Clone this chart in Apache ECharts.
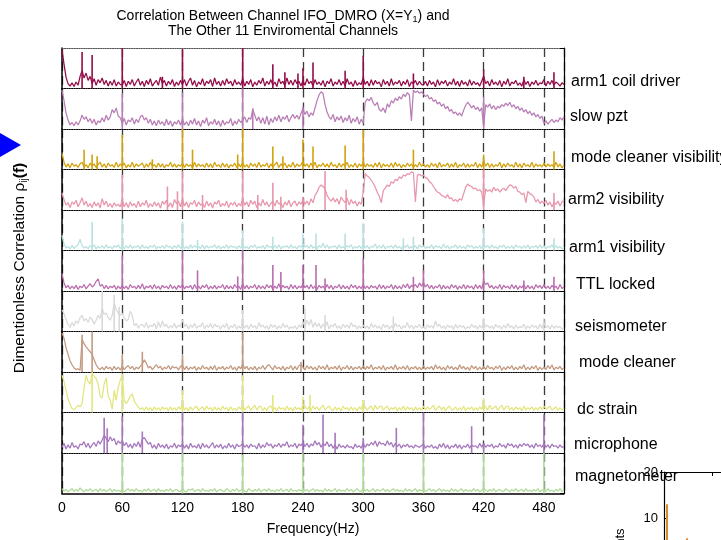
<!DOCTYPE html>
<html>
<head>
<meta charset="utf-8">
<script src="https://cdn.jsdelivr.net/npm/echarts@6/dist/echarts.min.js"></script>
<style>
  html, body { margin: 0; padding: 0; background: #fff; }
  #chart { width: 721px; height: 540px; }
</style>
</head>
<body>
<div id="chart"></div>
<script>
// channel names, top to bottom
const channels = ['arm1 coil driver', 'slow pzt', 'mode cleaner visibility', 'arm2 visibility', 'arm1 visibility',
  'TTL locked', 'seismometer', 'mode cleaner', 'dc strain', 'microphone', 'magnetometer']
const colors = ['#930c47', '#b87db5', '#d2a20c', '#e796ab', '#b9e0e0', '#b96dad', '#d9d9d9', '#c19a80', '#e3e67f', '#a577bd', '#b0da98']

// broadband part of each spectrum, one value every 2 Hz from 0 to 500 (0..100 = panel height)
// each row is 60 Hz
const coilDriver = [96,60,28,12,6, 14,5,16,8,30, 44,26,38,20,30, 12,24,8,22,14, 26,10,20,6,18, 8,22,6,16,10,
  8,20,5,18,10, 22,6,16,24,8, 18,5,20,10,24, 6,14,20,8,28, 12,20,6,18,10, 22,5,16,8,20,
  10,22,6,18,26, 8,20,4,16,10, 24,6,18,12,22, 5,26,10,18,6, 20,8,24,12,18, 6,22,10,16,8,
  24,6,18,10,22, 4,16,8,20,12, 26,6,18,10,22, 8,16,5,24,12, 18,6,26,10,20, 8,22,12,18,6,
  20,8,24,12,18, 6,22,10,16,8, 20,4,18,12,24, 6,16,10,22,8, 18,6,24,10,16, 5,20,8,14,10,
  26,10,18,6,22, 8,20,12,16,4, 22,10,18,6,24, 8,16,12,20,6, 18,10,22,5,16, 12,20,8,18,10,
  8,18,6,20,10, 16,4,22,8,18, 12,20,6,16,10, 24,8,18,5,20, 10,16,6,22,8, 18,10,14,6,18,
  30,12,18,6,22, 10,16,8,20,4, 18,10,24,6,16, 12,20,8,14,6, 22,10,18,5,16, 10,20,8,14,12,
  22,6,18,10,20,8,16,12,6,14,10]
const slowPzt = [96,70,40,22,10, 16,8,18,10,20, 34,24,30,18,26, 14,24,10,20,16, 28,18,34,22,30, 48,40,52,32,28,
  14,26,10,22,18, 28,12,24,16,30, 34,22,28,14,24, 10,20,8,22,12, 18,8,24,10,20, 6,18,12,22,10,
  24,10,18,8,22, 12,26,10,20,6, 22,14,28,8,18, 12,24,10,20,6, 22,10,18,14,26, 8,20,12,24,16,
  22,30,16,28,24, 48,34,20,30,14, 28,12,32,10,26, 16,30,20,34,18, 30,24,34,18,28, 36,26,34,24,38,
  50,36,44,30,40, 34,52,70,84,92, 88,60,42,30,24, 36,18,30,22,32, 16,28,20,34,14, 26,18,30,12,24,
  14,66,74,70,78, 64,58,66,48,44, 52,40,62,54,70, 64,76,70,80,74, 86,80,90,84,20, 96,90,94,88,92,
  86,80,84,74,78, 68,72,62,66,56, 62,50,56,44,48, 38,42,34,40,32, 46,58,66,60,52, 58,48,54,44,52,
  8,60,54,62,50, 58,48,56,52,60, 56,64,58,66,54, 60,50,56,46,52, 42,48,38,44,34, 40,30,36,26,32,
  14,20,12,18,24,16,22,18,28,22,30]
const mcVisibility = [40,18,6,14,4, 16,8,12,5,14, 18,6,12,4,16, 8,14,5,12,18, 6,14,4,16,8, 12,5,18,6,14,
  8,16,4,12,6, 18,5,14,8,12, 16,4,14,6,18, 8,12,5,16,6, 14,4,12,8,18, 6,14,5,12,8,
  16,5,14,8,12, 4,18,6,14,8, 12,5,16,6,14, 4,18,8,12,5, 16,6,14,4,12, 8,16,5,14,6,
  18,6,12,4,16, 8,14,5,18,6, 12,8,16,4,14, 6,12,18,5,14, 8,16,4,12,6, 18,5,14,8,12,
  20,8,14,5,16, 6,18,4,12,8, 16,6,14,5,18, 8,12,4,16,6, 14,8,18,5,12, 6,16,4,14,8,
  18,6,14,8,12, 5,16,6,18,4, 14,8,12,6,16, 5,18,8,14,4, 12,6,16,8,14, 5,12,6,18,8,
  14,6,12,5,16, 8,14,4,18,6, 12,8,16,5,14, 6,18,4,12,8, 16,5,14,6,12, 8,18,4,14,6,
  22,8,16,5,14, 6,12,8,18,4, 14,6,16,8,12, 5,18,6,14,4, 16,8,12,6,18, 5,14,8,12,6,
  16,6,14,8,12,5,18,6,14,4,10]
const arm2Visibility = [42,26,12,18,6, 20,14,24,8,18, 30,12,22,8,16, 6,20,10,18,5, 28,12,22,8,16, 6,18,10,14,8,
  24,8,18,6,20, 10,16,6,22,8, 18,12,24,6,16, 8,20,10,18,5, 22,14,24,8,18, 6,26,16,22,8,
  26,10,20,6,18, 14,24,8,20,12, 16,6,22,10,18, 5,20,14,24,8, 16,10,22,6,18, 12,20,8,16,10,
  28,12,20,8,24, 14,22,6,18,10, 26,12,20,8,16, 22,10,24,14,18, 6,20,12,24,8, 18,22,10,20,14,
  26,14,22,12,28, 18,36,44,56,62, 58,52,36,28,22, 30,20,28,14,32, 24,18,30,12,26, 16,22,10,20,14,
  44,90,84,80,74, 66,56,44,34,18, 48,54,62,58,70, 66,76,72,82,78, 86,84,90,88,94, 92,20,86,88,84,
  86,80,78,70,66, 58,50,44,42,36, 34,30,38,28,30, 22,26,20,28,24, 40,56,64,60,58, 52,54,48,50,44,
  14,52,46,50,44, 56,48,52,44,50, 54,48,56,62,60, 54,58,46,44,38, 42,18,46,40,38, 32,20,26,16,22,
  16,24,12,20,8,18,14,22,10,20,24]
const arm1Visibility = [38,16,6,10,4, 12,5,10,14,28, 12,6,10,4,12, 8,14,4,10,6, 12,5,14,6,10, 4,12,8,14,5,
  10,4,12,6,14, 5,10,8,12,4, 14,6,10,5,12, 8,14,4,10,6, 12,5,14,8,10, 4,12,6,14,5,
  12,5,10,4,14, 6,12,8,10,5, 14,4,12,6,10, 8,14,5,12,4, 10,6,14,5,12, 8,10,4,12,6,
  14,6,10,4,12, 8,14,5,10,6, 12,4,14,8,10, 5,12,6,14,4, 10,8,12,5,14, 6,10,4,12,8,
  16,8,12,5,14, 6,10,4,12,8, 18,6,14,5,10, 8,12,4,14,6, 10,5,12,8,14, 4,10,6,12,5,
  14,6,12,4,10, 8,16,5,12,6, 14,4,10,8,12, 5,14,6,10,4, 12,8,14,5,10, 6,12,4,14,8,
  12,5,10,6,14, 4,12,8,10,5, 16,6,12,4,10, 8,14,5,12,6, 10,4,14,8,12, 5,10,6,12,4,
  16,8,12,5,14, 6,10,4,12,8, 14,5,10,6,12, 4,14,8,10,5, 12,6,14,4,10, 8,12,5,14,6,
  12,4,10,8,14,5,12,6,10,4,8]
const ttlLocked = [43,20,8,14,5, 12,6,14,4,12, 8,16,5,12,18, 10,14,24,30,12, 16,6,14,5,12, 8,14,4,12,6,
  14,6,12,4,16, 8,12,5,14,6, 18,4,12,8,14, 5,16,6,12,4, 14,8,12,5,16, 6,12,4,14,8,
  16,5,12,8,14, 4,16,6,12,5, 14,8,16,4,12, 6,14,5,12,8, 16,4,14,6,12, 5,16,8,12,4,
  18,6,14,5,12, 8,16,4,14,6, 12,5,16,8,14, 4,12,6,18,5, 14,8,12,4,16, 6,14,5,12,8,
  18,8,14,5,16, 6,12,4,14,8, 12,5,16,6,14, 4,12,8,16,5, 14,6,12,4,16, 8,14,5,12,6,
  16,6,12,5,14, 8,12,4,16,6, 14,5,12,8,16, 4,14,6,12,5, 16,8,18,6,14, 10,16,8,20,12,
  20,10,16,6,14, 5,12,8,16,4, 14,6,12,5,16, 8,14,4,12,6, 16,5,14,8,12, 4,16,6,14,5,
  24,16,20,8,14, 5,12,6,16,4, 14,8,12,5,16, 6,14,4,12,8, 16,5,14,6,12, 4,16,8,14,6,
  16,6,12,5,14,8,12,4,16,6,10]
const seismometer = [53,44,30,18,10, 22,14,26,20,34, 40,26,32,22,36, 30,18,28,40,32, 58,42,46,34,28, 40,70,54,46,40,
  45,34,26,30,50, 40,14,20,8,16, 18,10,22,8,16, 12,20,6,24,10, 26,12,18,8,14, 10,20,8,16,12,
  30,12,18,6,16, 10,20,8,14,12, 22,6,16,10,20, 8,18,12,14,6, 16,10,20,5,14, 10,18,6,14,8,
  20,8,16,6,18, 10,14,6,22,12, 16,8,14,5,18, 10,16,6,14,8, 20,10,16,6,12, 8,14,5,16,10,
  24,12,28,16,30, 10,22,12,20,8, 18,10,24,6,16, 12,20,8,14,6, 18,10,16,8,22, 12,16,6,14,8,
  16,8,14,6,20, 10,16,8,14,5, 18,10,16,6,14, 8,20,12,16,6, 14,10,22,8,16, 6,14,10,18,8,
  12,6,16,10,14, 8,26,12,18,8, 14,6,16,10,14, 5,18,8,16,10, 14,6,12,8,18, 10,14,6,16,8,
  22,12,16,8,14, 6,18,10,14,6, 16,8,20,10,14, 6,16,8,12,10, 18,6,14,8,16, 10,14,6,18,8,
  22,10,14,6,16,8,14,10,12,6,10]
const modeCleaner = [96,84,60,44,28, 18,10,6,8,4, 80,70,62,56,50, 44,30,18,10,6, 12,5,14,8,12, 4,14,6,12,5,
  14,6,12,16,8, 14,5,12,8,14, 20,30,22,10,14, 6,12,18,10,14, 5,12,8,16,6, 14,10,12,5,14,
  16,6,14,5,12, 8,14,4,12,6, 16,8,12,5,14, 6,16,4,12,8, 14,5,12,8,16, 6,12,4,14,8,
  20,8,14,5,12, 6,14,4,12,8, 16,6,14,18,12, 5,16,8,12,6, 14,4,12,8,16, 5,14,6,16,18,
  12,5,16,8,14, 6,12,4,16,8, 14,6,18,5,12, 8,14,6,16,4, 12,8,16,6,14, 5,12,8,14,6,
  16,6,14,8,18, 5,12,8,14,6, 16,4,12,8,14, 6,18,5,12,8, 14,6,16,4,12, 8,14,6,12,5,
  16,6,12,8,14, 5,18,8,14,6, 12,4,16,8,14, 6,12,5,18,8, 14,6,12,4,16, 8,14,5,12,6,
  14,6,16,8,12, 5,14,8,16,4, 12,6,14,8,16, 5,12,6,14,8, 18,5,12,6,14, 8,16,4,12,6,
  12,6,16,8,18,5,12,8,14,6,10]
const dcStrain = [92,76,55,34,20, 10,7,12,18,14, 22,60,92,76,70, 96,90,84,70,39, 36,70,86,40,31, 8,55,30,62,80,
  90,30,22,30,40, 46,28,20,14,8, 12,5,14,6,12, 4,14,6,12,5, 14,8,12,4,14, 6,12,5,14,8,
  20,6,12,4,14, 6,12,16,5,10, 14,5,16,8,12, 4,14,6,12,5, 16,8,12,4,14, 6,10,5,14,8,
  18,6,12,16,5, 12,18,6,14,16, 5,12,4,14,16, 6,12,4,14,8, 12,5,16,6,12, 4,14,8,12,6,
  20,16,8,14,5, 16,8,14,6,12, 18,6,12,16,8, 5,14,6,12,4, 16,8,12,5,14, 6,12,4,14,8,
  22,14,6,12,16, 5,18,8,14,16, 6,12,16,5,12, 8,14,4,12,6, 16,5,14,8,12, 4,14,6,12,5,
  16,6,14,8,12, 18,5,12,16,6, 14,4,12,16,6, 8,14,5,12,6, 16,4,12,8,14, 5,12,6,14,8,
  20,14,6,18,8, 12,16,5,12,18, 6,14,16,6,12, 5,14,8,12,4, 16,6,12,8,14, 5,12,6,14,8,
  16,8,12,16,6,10,14,5,12,6,10]
const microphone = [14,24,10,20,12, 26,14,18,10,22, 20,28,14,24,12, 20,26,16,30,22, 32,44,36,28,40, 30,36,20,30,24,
  30,18,26,14,22, 12,24,16,28,14, 34,38,30,22,26, 12,20,10,24,14, 20,12,22,10,18, 14,24,12,20,16,
  22,12,20,10,24, 14,18,12,22,10, 24,14,20,12,18, 26,12,20,14,22, 10,18,12,24,14, 20,10,22,16,18,
  24,14,20,12,22, 16,18,10,24,12, 20,14,26,18,22, 12,20,16,24,14, 22,18,28,14,20, 16,24,12,22,18,
  26,16,24,14,22, 18,30,20,26,14, 24,18,28,16,22, 12,20,10,22,14, 18,12,20,14,16, 10,22,14,18,12,
  24,14,22,18,26, 20,30,16,28,22, 24,18,30,20,26, 14,24,16,22,12, 20,16,22,14,18, 12,20,16,14,18,
  22,12,18,14,20, 12,16,10,22,14, 24,12,20,10,18, 14,22,12,20,10, 18,14,22,12,20, 16,18,12,24,14,
  24,14,20,16,22, 12,18,14,24,16, 20,12,24,18,22, 14,20,12,22,16, 24,18,22,14,20, 12,24,16,20,14,
  24,14,20,12,22,16,18,12,20,14,16]
const magnetometer = [12,6,10,4,8, 12,5,10,6,14, 8,4,10,6,12, 5,8,10,4,12, 6,10,5,8,12, 4,10,6,8,5,
  10,4,8,12,6, 10,5,12,6,8, 4,10,6,12,5, 8,10,4,12,6, 8,5,10,6,12, 4,8,10,6,5,
  12,6,4,10,8, 12,5,8,10,4, 12,6,8,5,10, 6,12,4,8,10, 6,5,12,8,4, 10,6,12,5,8,
  10,6,4,12,8, 5,10,6,12,4, 8,10,5,12,6, 8,4,10,6,12, 5,8,10,4,12, 6,8,5,10,6,
  12,6,10,4,8, 12,5,10,6,8, 4,12,6,10,5, 8,12,4,10,6, 8,5,12,6,10, 4,8,12,6,5,
  12,6,10,5,8, 12,4,10,6,8, 12,5,10,4,8, 12,6,10,5,8, 4,12,6,10,5, 8,12,4,10,6,
  10,5,8,12,6, 10,4,8,12,5, 10,6,8,4,12, 6,10,5,8,12, 4,10,6,8,5, 12,6,10,4,8,
  12,8,5,10,6, 12,4,8,10,6, 5,12,8,4,10, 6,12,5,8,10, 4,12,6,8,5, 10,6,12,4,8,
  10,5,12,6,8,4,10,6,12,5,8]

// narrow lines: [frequency Hz, height]
const coilSpikes = [[20,90],[30,83],[60,100],[100,29],[120,96],[180,100],[210,60],[222,40],[235,37],[240,50],[250,64],[282,44],[300,81],[350,37],[420,47],[460,29],[490,40]]
const pztSpikes = [[60,88],[120,90],[180,100],[190,51],[240,55],[420,80]]
const mcvSpikes = [[22,49],[30,37],[35,33],[60,86],[90,25],[120,100],[130,49],[175,37],[180,100],[210,57],[220,33],[240,74],[250,57],[282,59],[300,98],[350,49],[420,37],[490,45]]
const arm2Spikes = [[60,87],[105,58],[115,46],[120,96],[140,37],[180,96],[195,37],[210,67],[218,33],[240,33],[262,96],[283,50],[420,100],[490,42]]
const arm1Spikes = [[30,71],[60,79],[120,71],[135,26],[180,50],[210,34],[240,42],[253,42],[282,42],[300,67],[340,30],[350,34],[420,55],[490,30]]
const ttlSpikes = [[60,88],[120,97],[135,51],[175,36],[180,100],[210,64],[218,47],[240,64],[253,64],[262,31],[300,80],[350,35],[360,51],[420,51],[460,26],[490,35]]
const seisSpikes = [[40,100],[52,90],[57,61],[180,53],[242,57],[262,41],[330,37],[420,33],[480,33]]
const mcSpikes = [[20,92],[30,100],[60,42],[80,50],[120,42],[180,96],[238,25]]
const dcSpikes = [[30,100],[60,96],[120,55],[180,92],[210,43],[240,39],[247,43],[300,31],[420,35]]
const micSpikes = [[42,87],[45,61],[60,90],[80,53],[120,100],[180,100],[240,70],[260,95],[272,50],[300,37],[333,62],[360,100],[408,66],[420,25],[480,95]]
const magSpikes = [[60,100],[120,100],[180,96],[240,100],[300,100],[360,100],[420,100],[480,100]]

// inset (histogram peeking in at the bottom right)
const insetBins = [1.5, 11.5]
const insetCounts = [13, 5.6]

const spectra = [coilDriver, slowPzt, mcVisibility, arm2Visibility, arm1Visibility, ttlLocked, seismometer, modeCleaner, dcStrain, microphone, magnetometer]
const spikes = [coilSpikes, pztSpikes, mcvSpikes, arm2Spikes, arm1Spikes, ttlSpikes, seisSpikes, mcSpikes, dcSpikes, micSpikes, magSpikes]
const labelX = [571, 570, 571, 568, 569, 576, 575, 579, 577, 574, 575]
const labelY = [82, 117, 158, 200, 248, 285, 327, 363, 410, 445, 477]

const FONT = "'Liberation Sans', Arial, sans-serif"
const TOP = 48
const PANEL_H = 40.5
const N = channels.length

const chart = echarts.init(document.getElementById('chart'), null, { renderer: 'canvas' })

const freq = coilDriver.map((_, i) => i * 2)

const grid = []
const xAxis = []
const yAxis = []
const series = []

for (let i = 0; i < N; i++) {
  const last = i === N - 1
  grid.push({ left: 62, top: TOP + i * PANEL_H, width: 502, height: PANEL_H, outerBoundsMode: 'none' })
  xAxis.push({
    gridIndex: i, type: 'value', min: 0, max: 500, interval: 60,
    axisLine: { onZero: false, lineStyle: { color: '#000', width: last ? 1.5 : 1.2, type: last ? 'solid' : 'dotted' } },
    axisTick: { show: false },
    axisLabel: { show: last, color: '#000', fontSize: 14, fontFamily: FONT, margin: 8, showMaxLabel: false },
    splitLine: { show: true, lineStyle: { color: '#3a3a3a', width: 1.3, type: [9, 5] } },
    name: last ? 'Frequency(Hz)' : '', nameLocation: 'middle', nameGap: 29,
    nameTextStyle: { color: '#000', fontSize: 14, fontFamily: FONT }
  })
  yAxis.push({
    gridIndex: i, min: 0, max: 100,
    axisLine: { show: true, onZero: false, lineStyle: { color: '#000', width: 1.5 } },
    axisTick: { show: false }, axisLabel: { show: false }, splitLine: { show: false }
  })
  yAxis.push({
    gridIndex: i, min: 0, max: 100, interval: 100, position: 'right',
    axisLine: { show: true, onZero: false, lineStyle: { color: '#000', width: 1.2 } },
    axisTick: { show: true, inside: true, length: 4, lineStyle: { color: '#000' } },
    axisLabel: { show: false }, splitLine: { show: false }
  })
  series.push({
    type: 'line', xAxisIndex: i, yAxisIndex: 2 * i,
    data: spectra[i].map((v, k) => [freq[k], v]),
    symbol: 'none', silent: true,
    lineStyle: { color: colors[i], width: 1.25 }
  })
  series.push({
    type: 'bar', xAxisIndex: i, yAxisIndex: 2 * i,
    data: spikes[i], barWidth: 1.6, silent: true,
    itemStyle: { color: colors[i] }
  })
}

// dotted top border of the first panel
xAxis.push({
  gridIndex: 0, type: 'value', min: 0, max: 500, position: 'top',
  axisLine: { onZero: false, lineStyle: { color: '#555', type: 'dotted', width: 1.2 } },
  axisTick: { show: false }, axisLabel: { show: false }, splitLine: { show: false }
})

// inset panel
grid.push({ left: 664, top: 472, width: 200, height: 92, outerBoundsMode: 'none' })
xAxis.push({
  gridIndex: N, type: 'value', min: 0, max: 100, interval: 24, position: 'top',
  axisLine: { onZero: false, lineStyle: { color: '#000', width: 1.2 } },
  axisTick: { inside: true, length: 4, lineStyle: { color: '#000' } },
  axisLabel: { show: false }, splitLine: { show: false }
})
yAxis.push({
  gridIndex: N, min: 0, max: 20, interval: 10,
  axisLine: { show: true, onZero: false, lineStyle: { color: '#000', width: 1.2 } },
  axisTick: { inside: true, length: 4, lineStyle: { color: '#000' } },
  axisLabel: { color: '#000', fontSize: 13, fontFamily: FONT, margin: 6 },
  splitLine: { show: false }
})
series.push({
  type: 'bar', xAxisIndex: N + 1, yAxisIndex: 2 * N, barWidth: 2, silent: true,
  data: insetBins.map((b, k) => [b, insetCounts[k]]),
  itemStyle: { color: '#e0882e' }
})

const graphic = [
  {
    type: 'text', x: 283, y: 9, z: 10,
    style: {
      text: 'Correlation Between Channel IFO_DMRO (X=Y{s|1}) and\nThe Other 11 Enviromental Channels',
      textAlign: 'center', fontSize: 14, fontFamily: FONT, fill: '#000', lineHeight: 15,
      rich: { s: { fontSize: 9, fontFamily: FONT, padding: [6, 0, 0, 0] } }
    }
  },
  {
    type: 'text', x: 20, y: 268, rotation: Math.PI / 2, z: 10,
    style: {
      text: 'Dimentionless Correlation ρ{s|ij}{b|(f)}',
      textAlign: 'center', textVerticalAlign: 'middle', fontSize: 15.5, fontFamily: FONT, fill: '#000',
      rich: {
        s: { fontSize: 10, fontFamily: FONT, padding: [8, 0, 0, 0] },
        b: { fontSize: 15.5, fontWeight: 'bold', fontFamily: FONT }
      }
    }
  },
  {
    type: 'polygon', z: 10,
    shape: { points: [[0, 133], [21, 145], [0, 157]] },
    style: { fill: '#0000ff' }
  },
  {
    type: 'text', x: 620, y: 549, rotation: Math.PI / 2, z: 10,
    style: { text: 'Counts', textAlign: 'center', textVerticalAlign: 'middle', fontSize: 13, fontFamily: FONT, fill: '#000' }
  }
]
channels.forEach((name, i) => {
  graphic.push({
    type: 'text', x: labelX[i], y: labelY[i], z: 10,
    style: { text: name, textVerticalAlign: 'middle', fontSize: 16, fontFamily: FONT, fill: '#000' }
  })
})

chart.setOption({
  animation: false,
  backgroundColor: '#fff',
  grid: grid,
  xAxis: xAxis,
  yAxis: yAxis,
  series: series,
  graphic: graphic
})
</script>
</body>
</html>
